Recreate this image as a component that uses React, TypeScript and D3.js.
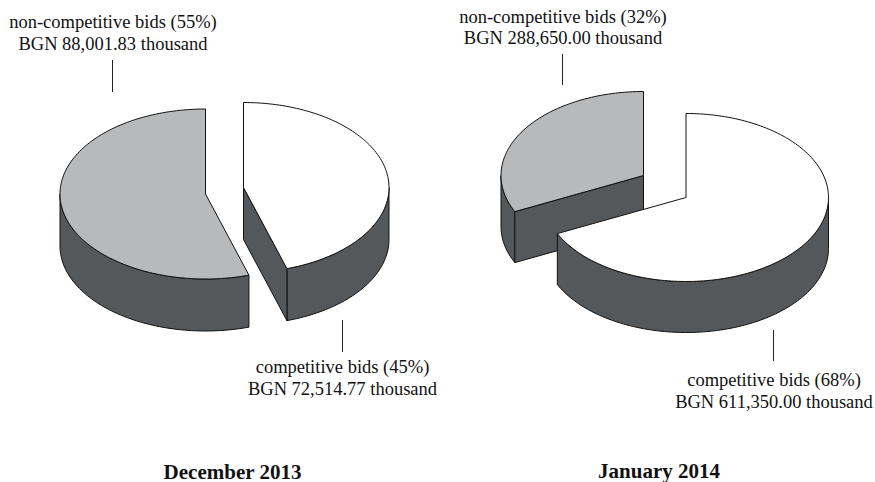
import React from "react";
import * as d3 from "d3";

const categories = ["competitive bids", "non-competitive bids"];
const periods = ["December 2013", "January 2014"];
const dec2013 = [72514.77, 88001.83];
const jan2014 = [611350.0, 288650.0];
const dec2013Labels = [
  ["competitive bids (45%)", "BGN 72,514.77 thousand"],
  ["non-competitive bids (55%)", "BGN 88,001.83 thousand"],
];
const jan2014Labels = [
  ["competitive bids (68%)", "BGN 611,350.00 thousand"],
  ["non-competitive bids (32%)", "BGN 288,650.00 thousand"],
];

const WIDTH = 875;
const HEIGHT = 482;
const COLORS = ["#ffffff", "#b8b9ba"];
const SIDE = "#54585a";
const STROKE = "#111111";

type Centre = { x: number; y: number };

const line = d3.line();

function ellipsePoint(c: Centre, a: number, rx: number, ry: number, dy = 0): [number, number] {
  return [c.x + rx * Math.sin(a), c.y - ry * Math.cos(a) + dy];
}

function arcPoints(c: Centre, a0: number, a1: number, rx: number, ry: number, dy = 0) {
  const n = Math.max(2, Math.ceil(Math.abs(a1 - a0) * 40));
  return d3.range(n + 1).map((i) => ellipsePoint(c, a0 + ((a1 - a0) * i) / n, rx, ry, dy));
}

function Pie3D({
  values,
  centres,
  rx,
  ry,
  depth,
}: {
  values: number[];
  centres: Centre[];
  rx: number;
  ry: number;
  depth: number;
}) {
  const arcs = d3.pie<number>().sort(null)(values);
  return (
    <g stroke={STROKE} strokeWidth={1} strokeLinejoin="round">
      {/* grey slice goes first, the white one sits over its wall */}
      {[1, 0].map((i) => {
        const { startAngle, endAngle } = arcs[i];
        const c = centres[i];
        const front0 = Math.max(startAngle, Math.PI / 2);
        const front1 = Math.min(endAngle, (Math.PI * 3) / 2);
        const wall = [
          ...arcPoints(c, front0, front1, rx, ry),
          ...arcPoints(c, front1, front0, rx, ry, depth),
        ];
        const top = [[c.x, c.y] as [number, number], ...arcPoints(c, startAngle, endAngle, rx, ry)];
        // cut face shows only when its edge faces the viewer
        const faceVisible = i === 0 ? endAngle < Math.PI : startAngle > Math.PI;
        const corner = ellipsePoint(c, i === 0 ? endAngle : startAngle, rx, ry);
        const face: [number, number][] = [
          [c.x, c.y],
          corner,
          [corner[0], corner[1] + depth],
          [c.x, c.y + depth],
        ];
        return (
          <g key={categories[i]}>
            <path d={line(wall) + "Z"} fill={SIDE} />
            {faceVisible && <path d={line(face) + "Z"} fill={SIDE} />}
            <path d={line(top) + "Z"} fill={COLORS[i]} />
          </g>
        );
      })}
    </g>
  );
}

function Label({ x, y, lines }: { x: number; y: number; lines: string[] }) {
  return (
    <text x={x} y={y} textAnchor="middle" fontSize={18.5} fill="#111">
      {lines.map((t, i) => (
        <tspan key={t} x={x} dy={i === 0 ? 0 : 21.5}>
          {t}
        </tspan>
      ))}
    </text>
  );
}

export default function App() {
  return (
    <svg
      width={WIDTH}
      height={HEIGHT}
      viewBox={`0 0 ${WIDTH} ${HEIGHT}`}
      style={{ position: "absolute", left: 0, top: 0, background: "#fff" }}
      fontFamily='"Liberation Serif", serif'
    >
      <Pie3D
        values={dec2013}
        centres={[
          { x: 243.5, y: 187.5 },
          { x: 205.5, y: 194 },
        ]}
        rx={145.5}
        ry={85}
        depth={52}
      />
      <Pie3D
        values={jan2014}
        centres={[
          { x: 686, y: 197.5 },
          { x: 643.5, y: 175.5 },
        ]}
        rx={142.5}
        ry={84}
        depth={51}
      />

      <g stroke="#222" strokeWidth={1}>
        <line x1={112.5} x2={112.5} y1={60} y2={92} />
        <line x1={342.5} x2={342.5} y1={320} y2={352} />
        <line x1={562.5} x2={562.5} y1={54} y2={85} />
        <line x1={773.5} x2={773.5} y1={330} y2={361} />
      </g>

      <Label x={113} y={28} lines={dec2013Labels[1]} />
      <Label x={342.5} y={373} lines={dec2013Labels[0]} />
      <Label x={563} y={22.5} lines={jan2014Labels[1]} />
      <Label x={774} y={386} lines={jan2014Labels[0]} />

      <text x={232.5} y={478.5} textAnchor="middle" fontSize={21} fontWeight="bold" fill="#111">
        {periods[0]}
      </text>
      <text x={659} y={478} textAnchor="middle" fontSize={21} fontWeight="bold" fill="#111">
        {periods[1]}
      </text>
    </svg>
  );
}
